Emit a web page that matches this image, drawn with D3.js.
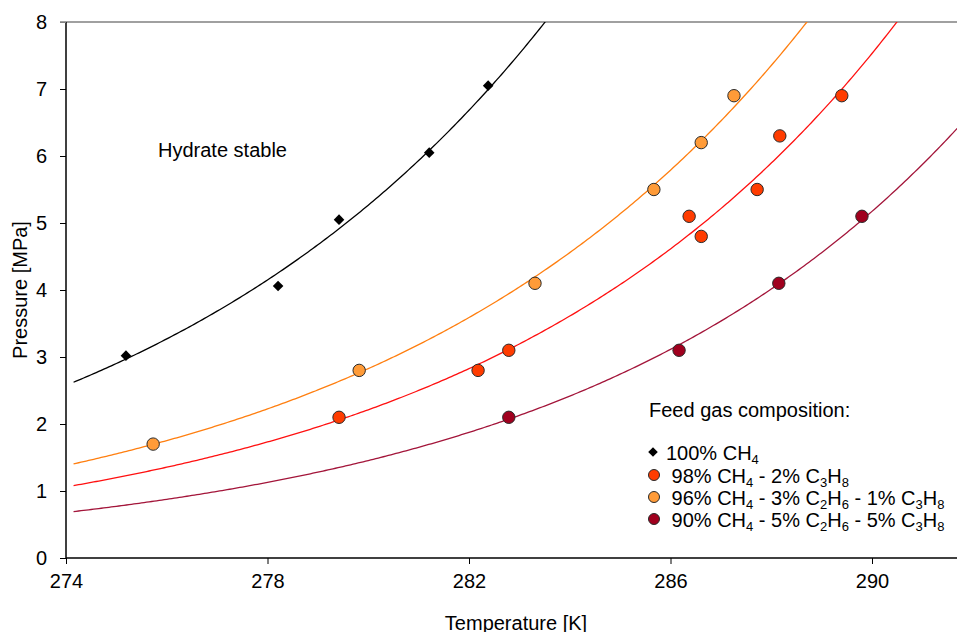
<!DOCTYPE html>
<html>
<head>
<meta charset="utf-8">
<script src="https://cdn.jsdelivr.net/npm/d3@7"></script>
<style>
  body { margin: 0; background: #fff; }
  svg { display: block; font-family: "Liberation Sans", Arial, sans-serif; }
</style>
</head>
<body>
<div class="chart"></div>
<script>
// measured hydrate equilibrium points, temperature [K] / pressure [MPa]
var ch4T = [275.19, 278.21, 279.42, 281.21, 282.38];
var ch4P = [3.02, 4.06, 5.05, 6.05, 7.05];

var c3T = [279.42, 282.18, 282.79, 286.37, 286.61, 287.72, 288.17, 289.40];
var c3P = [2.1, 2.8, 3.1, 5.1, 4.8, 5.5, 6.3, 6.9];

var c2c3T = [275.73, 279.82, 283.31, 285.67, 286.61, 287.26];
var c2c3P = [1.7, 2.8, 4.1, 5.5, 6.2, 6.9];

var richT = [282.79, 286.17, 288.15, 289.80];
var richP = [2.1, 3.1, 4.1, 5.1];

var xTicks = [274, 278, 282, 286, 290];
var yTicks = [0, 1, 2, 3, 4, 5, 6, 7, 8];
var trendStart = 274.15;

var svgWidth = 957;
var svgHeight = 632;

var margin = { top: 22, left: 66, bottom: 74 };
var height = svgHeight - margin.top - margin.bottom;
var pxPerK = 50.375;

var svg = d3.select(".chart")
  .append("svg")
  .attr("width", svgWidth)
  .attr("height", svgHeight);

var x = d3.scaleLinear()
  .domain([274, 294])
  .range([margin.left, margin.left + 20 * pxPerK]);

var y = d3.scaleLinear()
  .domain([0, 8])
  .range([margin.top + height, margin.top]);

// series definitions
var series = [
  { T: ch4T, P: ch4P, line: "#000000", fill: "#000000", shape: "diamond" },
  { T: c3T, P: c3P, line: "#ff1010", fill: "#ff3c00", shape: "circle" },
  { T: c2c3T, P: c2c3P, line: "#ff7f10", fill: "#ff9b38", shape: "circle" },
  { T: richT, P: richP, line: "#a3153a", fill: "#a0001e", shape: "circle" }
];

// exponential trendline (least squares on ln P), like a spreadsheet trendline
function expFit(T, P) {
  var lp = P.map(p => Math.log(p));
  var mt = d3.mean(T), ml = d3.mean(lp);
  var sxy = d3.sum(T, (t, i) => (t - mt) * (lp[i] - ml));
  var sxx = d3.sum(T, t => (t - mt) * (t - mt));
  var b = sxy / sxx;
  var a = ml - b * mt;
  return t => Math.exp(a + b * t);
}

svg.append("clipPath")
  .attr("id", "plotClip")
  .append("rect")
  .attr("x", margin.left)
  .attr("y", margin.top)
  .attr("width", svgWidth - margin.left)
  .attr("height", height);

// top frame line
svg.append("line")
  .attr("x1", margin.left - 6)
  .attr("x2", svgWidth)
  .attr("y1", y(8))
  .attr("y2", y(8))
  .attr("stroke", "#808080")
  .attr("stroke-width", 1.6);

var curves = svg.append("g").attr("clip-path", "url(#plotClip)");

var line = d3.line()
  .x(d => x(d[0]))
  .y(d => y(d[1]));

series.forEach(function (s) {
  var f = expFit(s.T, s.P);
  var pts = d3.range(trendStart, 292, 0.05).map(t => [t, f(t)]);
  curves.append("path")
    .datum(pts)
    .attr("d", line)
    .attr("fill", "none")
    .attr("stroke", s.line)
    .attr("stroke-width", 1.3);
});

// axes
var bottomAxis = d3.axisBottom(x).tickValues(xTicks).tickSize(6).tickPadding(10);
var leftAxis = d3.axisLeft(y).tickValues(yTicks).tickSize(6).tickPadding(13);

var xAxis = svg.append("g")
  .attr("transform", `translate(0, ${y(0)})`)
  .call(bottomAxis);

var yAxis = svg.append("g")
  .attr("transform", `translate(${margin.left}, 0)`)
  .call(leftAxis);

[xAxis, yAxis].forEach(function (g) {
  g.select(".domain").attr("stroke", "#000").attr("stroke-width", 1.5);
  g.selectAll(".tick line").attr("stroke", "#000").attr("stroke-width", 1);
  g.selectAll(".tick text")
    .style("font-size", "20px")
    .style("font-family", "Liberation Sans, Arial, sans-serif")
    .attr("fill", "#000");
});
xAxis.select(".domain").attr("d", `M${margin.left},0H${svgWidth}`);
yAxis.select(".domain").attr("d", `M0,${y(0)}V${y(8)}`);
yAxis.selectAll(".tick").filter(d => d === 8).select("line").attr("stroke", "#808080");

// markers
series.forEach(function (s) {
  var pts = s.T.map((t, i) => [t, s.P[i]]);
  if (s.shape === "diamond") {
    svg.append("g").selectAll("path")
      .data(pts)
      .enter()
      .append("path")
      .attr("d", d3.symbol().type(d3.symbolSquare).size(56))
      .attr("transform", d => `translate(${x(d[0])}, ${y(d[1])}) rotate(45)`)
      .attr("fill", s.fill);
  } else {
    svg.append("g").selectAll("circle")
      .data(pts)
      .enter()
      .append("circle")
      .attr("cx", d => x(d[0]))
      .attr("cy", d => y(d[1]))
      .attr("r", 6.2)
      .attr("fill", s.fill)
      .attr("stroke", "#2a2a2a")
      .attr("stroke-width", 1);
  }
});

// axis titles
svg.append("text")
  .attr("x", 516)
  .attr("y", 630)
  .attr("text-anchor", "middle")
  .style("font-size", "20px")
  .text("Temperature [K]");

svg.append("text")
  .attr("transform", "rotate(-90)")
  .attr("x", -290)
  .attr("y", 27)
  .attr("text-anchor", "middle")
  .style("font-size", "20px")
  .text("Pressure [MPa]");

svg.append("text")
  .attr("x", 158)
  .attr("y", 157)
  .style("font-size", "20px")
  .text("Hydrate stable");

// legend
var legend = svg.append("g");
legend.append("text")
  .attr("x", 649)
  .attr("y", 417)
  .style("font-size", "20px")
  .text("Feed gas composition:");

var legendLabels = [
  [["100% CH", ""], ["4", "sub"]],
  [[" 98% CH", ""], ["4", "sub"], [" - 2% C", ""], ["3", "sub"], ["H", ""], ["8", "sub"]],
  [[" 96% CH", ""], ["4", "sub"], [" - 3% C", ""], ["2", "sub"], ["H", ""], ["6", "sub"], [" - 1% C", ""], ["3", "sub"], ["H", ""], ["8", "sub"]],
  [[" 90% CH", ""], ["4", "sub"], [" - 5% C", ""], ["2", "sub"], ["H", ""], ["6", "sub"], [" - 5% C", ""], ["3", "sub"], ["H", ""], ["8", "sub"]]
];
var legendY = [452, 475, 497, 519];

legendLabels.forEach(function (parts, i) {
  var s = series[i];
  if (s.shape === "diamond") {
    legend.append("path")
      .attr("d", d3.symbol().type(d3.symbolSquare).size(46))
      .attr("transform", `translate(653, ${legendY[i]}) rotate(45)`)
      .attr("fill", s.fill);
  } else {
    legend.append("circle")
      .attr("cx", 654)
      .attr("cy", legendY[i])
      .attr("r", 5.5)
      .attr("fill", s.fill)
      .attr("stroke", "#2a2a2a")
      .attr("stroke-width", 1);
  }
  var t = legend.append("text")
    .attr("x", 666)
    .attr("y", legendY[i] + 8)
    .attr("xml:space", "preserve")
    .style("font-size", "20px");
  var down = false;
  parts.forEach(function (p) {
    var span = t.append("tspan").text(p[0]);
    if (p[1] === "sub") {
      span.attr("dy", down ? 0 : 4).style("font-size", "13px");
      down = true;
    } else if (down) {
      span.attr("dy", -4);
      down = false;
    }
  });
});
</script>
</body>
</html>
